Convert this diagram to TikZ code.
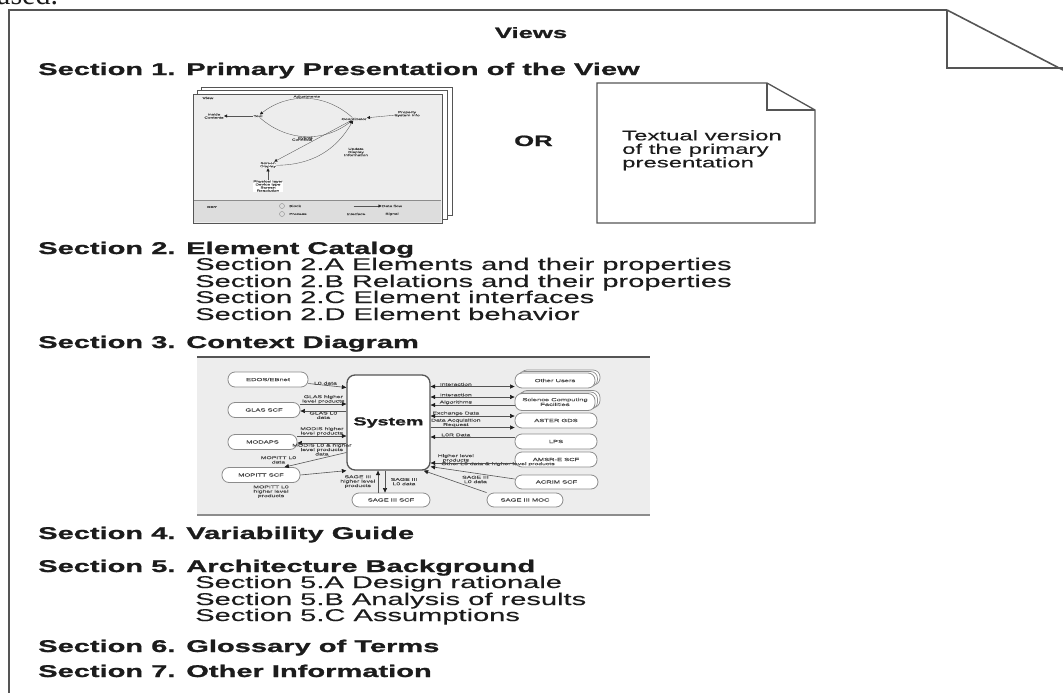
\documentclass[tikz,border=0pt]{standalone}
\usepackage{fontspec}
\setmainfont{Liberation Sans}
\newfontfamily\docsans{Liberation Sans}[FakeStretch=1.71,
  UprightFeatures={FakeBold=0.3}, BoldFeatures={FakeBold=1.2}]
\newfontfamily\scanserif{Liberation Serif}
\usetikzlibrary{arrows.meta,positioning,shadows}
\definecolor{pgink}{HTML}{1C1C1C}
\definecolor{pgline}{HTML}{555555}
\definecolor{pgrule}{HTML}{8C8C8C}
\definecolor{pgshade}{HTML}{EDEDED}
\definecolor{pgkey}{HTML}{DDDDDD}
\definecolor{pgtiny}{HTML}{4A4A4A}

\begin{document}
\begin{tikzpicture}[
  x=1pt, y=-1pt,
  font=\docsans, text=pgink,
  head/.style={anchor=base west, inner sep=0pt, font=\docsans\bfseries\fontsize{17}{20}\selectfont},
  sub/.style={anchor=base west, inner sep=0pt, font=\docsans\fontsize{17}{20}\selectfont},
  tiny/.style={inner sep=0.4pt, align=center, text=pgtiny, font=\docsans\fontsize{4}{4.4}\selectfont},
  wee/.style={inner sep=0.3pt, align=center, text=pgtiny, font=\docsans\fontsize{2.8}{3.1}\selectfont},
  oval/.style={draw=pgrule, fill=white, rounded corners=7pt, line width=0.8pt, inner sep=0pt,
               minimum height=15pt, minimum width=80pt, text=pgtiny, align=center,
               font=\docsans\fontsize{4.4}{4.8}\selectfont},
  stack/.style={oval, double copy shadow={shadow xshift=2.5pt, shadow yshift=1.5pt,
               draw=pgrule, fill=white, line width=0.7pt}},
  sysbox/.style={draw=pgline, fill=white, rounded corners=8pt, line width=1.3pt,
                 minimum width=83pt, minimum height=95pt,
                 font=\docsans\bfseries\fontsize{11.5}{13}\selectfont},
  link/.style={pgline, line width=0.6pt},
  wlink/.style={pgline, line width=0.35pt},
  tip/.style={-{Triangle[length=4.5pt, width=4pt, color=pgink]}},
  tips/.style={{Triangle[length=4.5pt, width=4pt, color=pgink]}-{Triangle[length=4.5pt, width=4pt, color=pgink]}},
  wtip/.style={-{Triangle[length=3pt, width=3pt, color=pgink]}},
  page/.style={draw=pgline, line width=1.6pt},
  sheet/.style={draw=pgline, fill=white, line width=1pt}
]
\useasboundingbox (0,0) rectangle (1063,693);
\clip (0,0) rectangle (1063,693);

% the page and its folded corner
\node[anchor=base west, inner sep=0pt, font=\scanserif\fontsize{30}{30}\selectfont] (prev) at (-3,5) {ased.};
\draw[page] (9,693) -- (9,10) -- (947,10);
\draw[page] (947,10) -- (1063,70);
\draw[page] (947,10) -- (947,68) -- (1063,68);

\node[anchor=base, inner sep=0pt, font=\docsans\bfseries\fontsize{15}{18}\selectfont] (title) at (531,38) {Views};
\node[head] (s1) at (38,75) {Section 1. Primary Presentation of the View};

% primary presentation: stack of view sheets
\draw[sheet] (201,87) rectangle (452,215);
\draw[sheet] (197,90.5) rectangle (447,219);
\draw[sheet, fill=pgshade] (193,94) rectangle (442,223);
\fill[pgkey] (194,200) rectangle (441,222);
\draw[wlink, pgrule] (194,200) -- (441,200);

\node[wee, anchor=west, font=\docsans\bfseries\fontsize{2.8}{3.1}\selectfont] (vw) at (202,98) {View};
\node[wee] (c1) at (214,116) {Inside\\Contents};
\node[wee] (c2) at (258,116) {Tool};
\node[wee] (c3) at (354,119) {Coordinator};
\node[wee] (c4) at (407,114) {Property\\System Info};
\node[wee, fill=white] (c5) at (268,165) {Screen\\Display};
\node[wee] (c6) at (356,152) {Update\\Display\\Information};
\node[wee, fill=white] (c7) at (268,186) {Physical layer\\Device type\\Screen\\Resolution};
\draw[wlink, wtip] (c2) -- (c1);
\draw[wlink, wtip] (c3) to[bend right=40] node[wee, above] (a1) {Adjustments} (c2);
\draw[wlink, wtip] (c2) to[bend right=40] node[wee, below] (a2) {Events} (c3);
\draw[wlink, wtip] (c4) -- (c3);
\draw[wlink, wtip] (c3) -- node[wee, above left] (a3) {Connects} (c5);
\draw[wlink, wtip] (c5) to[bend right=30] (c3);
\draw[wlink, wtip] (c7) -- (c5);

\node[wee, font=\docsans\bfseries\fontsize{2.8}{3.1}\selectfont] (key) at (212,207) {KEY};
\node[draw=pgrule, circle, minimum size=5pt, inner sep=0pt] (kb) at (282,206) {};
\node[draw=pgrule, circle, minimum size=5pt, inner sep=0pt] (kp) at (282,214) {};
\node[wee, right=4pt of kb] (kbt) {Block};
\node[wee, right=4pt of kp] (kpt) {Process};
\node[wee] (kd) at (392,206) {Data flow};
\node[wee] (ki) at (356,214) {Interface};
\node[wee] (ks) at (392,214) {Signal};
\draw[wlink, wtip] ([xshift=-28pt]kd.west) -- (kd.west);

\node[inner sep=0pt, font=\docsans\bfseries\fontsize{15}{18}\selectfont, anchor=base west] (or) at (514,146) {OR};

% textual version as a dog-eared sheet
\draw[page, line width=1.3pt, fill=white] (597,83) -- (767,83) -- (815,110) -- (815,223) -- (597,223) -- cycle;
\draw[page, line width=1.1pt] (767,83) -- (767,110) -- (815,110);
\node[anchor=north west, inner sep=0pt, align=left, font=\docsans\fontsize{14}{13.5}\selectfont] (txt)
  at (622,130) {Textual version\\of the primary\\presentation};

\node[head] (s2) at (38,254) {Section 2. Element Catalog};
\node[sub] (s2a) at (195,270) {Section 2.A Elements and their properties};
\node[sub] (s2b) at (195,287) {Section 2.B Relations and their properties};
\node[sub] (s2c) at (195,303) {Section 2.C Element interfaces};
\node[sub] (s2d) at (195,320) {Section 2.D Element behavior};
\node[head] (s3) at (38,348) {Section 3. Context Diagram};

% context diagram
\fill[pgshade] (197,357) rectangle (650,515);
\draw[pgline, line width=1.1pt] (197,357) -- (650,357);
\draw[pgrule, line width=1.6pt] (197,515) -- (650,515);

\node[sysbox] (sys) at (388.5,422.5) {System};
\node[oval] (edos) at (268,379.5) {EDOS/EBnet};
\node[oval, minimum width=72pt] (glas) at (264,410) {GLAS SCF};
\node[oval, minimum width=69pt] (modaps) at (262.5,442) {MODAPS};
\node[oval, minimum width=78pt] (mopitt) at (261,475) {MOPITT SCF};
\node[oval, minimum width=78pt, minimum height=14pt] (sagescf) at (391,500) {SAGE III SCF};
\node[oval, minimum width=76pt, minimum height=14pt] (sagemoc) at (525,500) {SAGE III MOC};
\node[stack, minimum width=80pt] (users) at (555,380.5) {Other Users};
\node[stack, minimum width=80pt, minimum height=17pt] (scf) at (555,402) {Science Computing\\Facilities};
\node[oval, minimum width=82pt] (aster) at (556,420.5) {ASTER GDS};
\node[oval, minimum width=82pt] (lps) at (556,441.5) {LPS};
\node[oval, minimum width=82pt] (amsr) at (556,459.5) {AMSR-E SCF};
\node[oval, minimum width=83pt, minimum height=14pt] (acrim) at (556.5,482) {ACRIM SCF};

\draw[link, tip] ([yshift=-4pt]edos.east) -- ([yshift=-8pt]edos.east -| sys.west)
  node[tiny, pos=0.45, above] (l1) {L0 data};
\draw[link, tip] ([yshift=6pt]glas.east) -- ([yshift=6pt]glas.east -| sys.west)
  node[tiny, midway, above] (l2) {GLAS higher\\level products};
\draw[link, tip] ([yshift=-1pt]glas.east -| sys.west) -- ([yshift=-1pt]glas.east)
  node[tiny, midway, below] (l3) {GLAS L0\\data};
\draw[link, tip] ([yshift=6pt]modaps.east) -- ([yshift=6pt]modaps.east -| sys.west)
  node[tiny, midway, above] (l4) {MODIS higher\\level products};
\draw[link, tip] ([yshift=-1pt]modaps.east -| sys.west) -- ([yshift=-1pt]modaps.east)
  node[tiny, midway, below] (l5) {MODIS L0 \& higher\\level products\\data};
\draw[link, tip] ([yshift=-30pt]sys.west) -- ([xshift=-16pt]mopitt.north east)
  node[tiny, pos=0.8, above left] (l6) {MOPITT L0\\data};
\draw[link, tip] (mopitt.east) -- (sys.south west);
\node[tiny, below=2pt of mopitt, xshift=10pt] (l7) {MOPITT L0\\higher level\\products};

\draw[link, tip] ([xshift=-13pt]sagescf.north) -- ([xshift=-13pt]sagescf.north |- sys.south)
  node[tiny, midway, left=2pt] (l8) {SAGE III\\higher level\\products};
\draw[link, tip] ([xshift=-6pt]sagescf.north |- sys.south) -- ([xshift=-6pt]sagescf.north)
  node[tiny, midway, right=5pt] (l9) {SAGE III\\L0 data};
\draw[link, tip] (sagemoc.north west) -- ([xshift=-7pt]sys.south east)
  node[tiny, pos=0.4, above right] (l10) {SAGE III\\L0 data};

\draw[link, tips] ([yshift=-6pt]users.west -| sys.east) -- ([yshift=-6pt]users.west)
  node[tiny, pos=0.3, above] (r1) {Interaction};
\draw[link, tips] ([yshift=5pt]scf.west -| sys.east) -- ([yshift=5pt]scf.west)
  node[tiny, pos=0.3, above] (r2) {Interaction};
\draw[link, tip] ([yshift=-3pt]scf.west) -- ([yshift=-3pt]scf.west -| sys.east)
  node[tiny, pos=0.7, above] (r3) {Algorithms};
\draw[link, tips] ([yshift=4.5pt]aster.west -| sys.east) -- ([yshift=4.5pt]aster.west)
  node[tiny, pos=0.3, above] (r4) {Exchange Data};
\draw[link, tip] ([yshift=-7pt]aster.west -| sys.east) -- ([yshift=-7pt]aster.west)
  node[tiny, pos=0.3, above] (r5) {Data Acquisition\\Request};
\draw[link, tip] ([yshift=4.5pt]lps.west) -- ([yshift=4.5pt]lps.west -| sys.east)
  node[tiny, pos=0.7, above] (r6) {L0R Data};
\draw[link, tip] ([yshift=-3.5pt]amsr.west) -- ([yshift=-3.5pt]amsr.west -| sys.east)
  node[tiny, pos=0.7, above] (r7) {Higher level\\products};
\draw[link, tip] ([yshift=3pt]acrim.west) -- ([yshift=4pt]sys.south east)
  node[tiny, pos=1, anchor=south west, xshift=10pt] (r8) {Other L0 data \& higher level products};

\node[head] (s4) at (38,539) {Section 4. Variability Guide};
\node[head] (s5) at (38,572) {Section 5. Architecture Background};
\node[sub] (s5a) at (195,588) {Section 5.A Design rationale};
\node[sub] (s5b) at (195,605) {Section 5.B Analysis of results};
\node[sub] (s5c) at (195,621) {Section 5.C Assumptions};
\node[head] (s6) at (38,652) {Section 6. Glossary of Terms};
\node[head] (s7) at (38,677) {Section 7. Other Information};
\end{tikzpicture}
\end{document}
